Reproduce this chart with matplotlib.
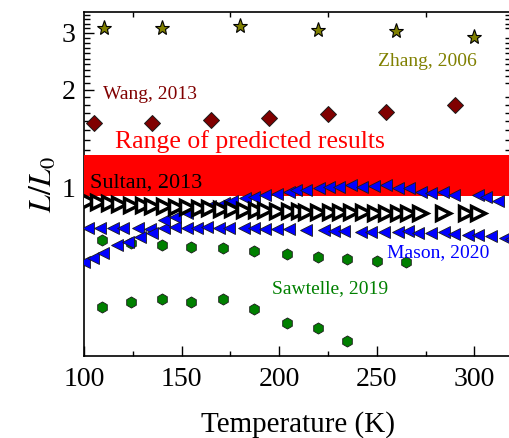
import matplotlib
matplotlib.use("Agg")
import matplotlib.pyplot as plt
from matplotlib.ticker import FixedLocator, NullFormatter

plt.rcParams['font.family'] = ['Liberation Serif', 'DejaVu Serif']
plt.rcParams['mathtext.fontset'] = 'stix'

# Zhang, 2006
zhang_T = [110, 140, 180, 220, 260, 300]
zhang_L = [3.10, 3.10, 3.14, 3.06, 3.03, 2.91]

# Wang, 2013
wang_T = [105, 135, 165, 195, 225, 255, 290]
wang_L = [1.58, 1.58, 1.61, 1.64, 1.69, 1.71, 1.79]

# Sultan, 2013
sultan_T = [102, 107, 113, 118, 124, 130, 135, 141, 147, 153, 159, 164, 170, 176, 182, 188, 193,
            199, 205, 210, 214, 220, 226, 231, 237, 243, 249, 255, 261, 266, 272, 284, 296, 302]
sultan_L = [0.905, 0.900, 0.895, 0.890, 0.885, 0.880, 0.877, 0.873, 0.870, 0.867, 0.864, 0.861,
            0.858, 0.856, 0.853, 0.851, 0.849, 0.847, 0.845, 0.843, 0.842, 0.841, 0.840, 0.839,
            0.838, 0.837, 0.836, 0.836, 0.835, 0.835, 0.834, 0.833, 0.832, 0.832]

# Mason, 2020 (rising branch)
mason_a_T = [100, 104.8, 109.9, 116.8, 122.8, 128.8, 134.8, 140.8, 146.8, 152.8, 158.8, 164.8,
             171.6, 176, 182.7, 187, 193, 199, 205, 208.4, 213.6, 220.4, 225.5, 230.7, 236.7,
             242.7, 248.7, 254.7, 260.7, 266.6, 272.7, 277.8, 283.8, 289.8, 301.8, 306, 312]
mason_a_L = [0.589, 0.604, 0.626, 0.664, 0.680, 0.701, 0.721, 0.793, 0.809, 0.835, 0.858, 0.876,
             0.893, 0.910, 0.925, 0.936, 0.947, 0.954, 0.970, 0.982, 0.982, 0.994, 1.001, 1.005,
             1.017, 1.005, 1.010, 1.017, 0.994, 0.994, 0.970, 0.959, 0.970, 0.947, 0.947, 0.936,
             0.910]

# Mason, 2020 (flat branch)
mason_b_T = [102.2, 108.2, 115.1, 120.2, 127.9, 133.9, 140.8, 146.8, 152.8, 157.9, 163.1, 169.0,
             174.2, 181.9, 187.0, 193.0, 199.0, 205.0, 213.6, 223.0, 228.1, 233.2, 241.8, 247.0,
             253.8, 260.7, 265.8, 271.0, 277.8, 284.6, 289.8, 296.7, 301.8, 308.6, 315.5, 318.9]
mason_b_L = [0.747, 0.747, 0.747, 0.747, 0.747, 0.745, 0.747, 0.752, 0.747, 0.747, 0.754, 0.747,
             0.747, 0.747, 0.747, 0.745, 0.744, 0.742, 0.739, 0.739, 0.735, 0.735, 0.730, 0.730,
             0.727, 0.727, 0.735, 0.721, 0.721, 0.727, 0.718, 0.713, 0.713, 0.708, 0.697, 0.691]

# Sawtelle, 2019
saw_a_T = [109, 124, 140, 155, 171, 187, 204, 220, 235, 250, 265]
saw_a_L = [0.688, 0.675, 0.664, 0.656, 0.648, 0.637, 0.621, 0.608, 0.601, 0.594, 0.589]
saw_b_T = [109, 124, 140, 155, 171, 187, 204, 220, 235]
saw_b_L = [0.428, 0.443, 0.452, 0.443, 0.451, 0.421, 0.380, 0.367, 0.336]

band_low, band_high = 0.94, 1.26

fig = plt.figure(figsize=(5.10, 4.38), dpi=100)
ax = fig.add_axes([0.1647, 0.1879, 0.838, 0.7847])

ax.axhspan(band_low, band_high, color='#FF0000', lw=0, zorder=2.6)

ax.plot(saw_a_T, saw_a_L, 'h', ms=8, mfc='#008000', mec='#1a1a1a', mew=0.6, ls='none', zorder=3)
ax.plot(saw_b_T, saw_b_L, 'h', ms=8, mfc='#008000', mec='#1a1a1a', mew=0.6, ls='none', zorder=3)
ax.plot(mason_b_T, mason_b_L, '<', ms=8.5, mfc='#0000FF', mec='#1a1a1a', mew=0.6, ls='none', zorder=3)
ax.plot(mason_a_T, mason_a_L, '<', ms=8.5, mfc='#0000FF', mec='#1a1a1a', mew=0.6, ls='none', zorder=3)
ax.plot(sultan_T, sultan_L, '>', ms=9.5, mfc='white', mec='black', mew=2.5, ls='none', zorder=4)
ax.plot(wang_T, wang_L, 'D', ms=8, mfc='#800000', mec='#1a1a1a', mew=0.7, ls='none', zorder=3)
ax.plot(zhang_T, zhang_L, '*', ms=11, mfc='#808000', mec='black', mew=0.8, ls='none', zorder=3)

ax.text(115.9, 1.326, 'Range of predicted results', color='#FF0000', fontsize=18.5, zorder=5)
ax.text(103.1, 1.0, 'Sultan, 2013', color='black', fontsize=16, zorder=5)
ax.text(109.8, 1.875, 'Wang, 2013', color='#800000', fontsize=14, zorder=5)
ax.text(250.6, 2.377, 'Zhang, 2006', color='#808000', fontsize=14, zorder=5)
ax.text(255.2, 0.608, 'Mason, 2020', color='#0000FF', fontsize=14, zorder=5)
ax.text(196.1, 0.471, 'Sawtelle, 2019', color='#008000', fontsize=14, zorder=5)

ax.set_yscale('log')
ax.set_xlim(100, 319)
ax.set_ylim(0.302, 3.48)

ax.xaxis.set_major_locator(FixedLocator([100, 150, 200, 250, 300]))
ax.xaxis.set_minor_locator(FixedLocator([125, 175, 225, 275]))
ax.yaxis.set_major_locator(FixedLocator([1, 2, 3]))
ax.yaxis.set_major_formatter(plt.FixedFormatter(['1', '2', '3']))
minor_y = [1.1, 1.2, 1.3, 1.4, 1.5, 1.6, 1.7, 1.8, 1.9, 2.1, 2.2, 2.3, 2.4, 2.5, 2.6, 2.7, 2.8,
           2.9, 3.1, 3.2, 3.3, 3.4]
ax.yaxis.set_minor_locator(FixedLocator(minor_y))
ax.yaxis.set_minor_formatter(NullFormatter())

ax.tick_params(which='both', direction='in', labelsize=20, width=1.0)
ax.tick_params(which='major', length=7, top=False, right=False)
ax.tick_params(axis='x', which='major', pad=8)
ax.tick_params(axis='y', which='major', pad=6)
ax.tick_params(which='minor', length=3.5, top=True, right=True)
ax.tick_params(axis='y', which='minor', length=4)
for s in ax.spines.values():
    s.set_linewidth(1.2)

ax.set_xlabel('Temperature (K)', fontsize=21, labelpad=14)
ax.set_ylabel('$L/L_0$', fontsize=23, labelpad=2)

fig.savefig('out.png', dpi=100)
